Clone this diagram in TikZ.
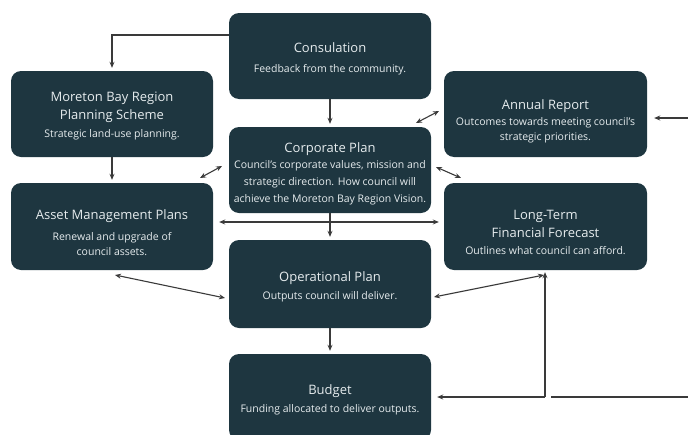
\documentclass[tikz,border=0pt]{standalone}
\usepackage{fontspec}
\setmainfont{Open Sans}
\usetikzlibrary{arrows.meta}
\definecolor{boxc}{HTML}{1E3640}
\definecolor{txtc}{HTML}{E6ECEE}
\definecolor{arrc}{HTML}{3A3A3A}
\tikzset{
  pbox/.style={rectangle, rounded corners=10pt, fill=boxc,
    minimum width=202pt, minimum height=86pt, inner sep=0pt},
  ptxt/.style={text=txtc, align=center, inner sep=0pt,
    font=\fontsize{10.5}{17}\selectfont},
  arr/.style={draw=arrc, line width=1.1pt, -{Stealth[length=6pt,width=5pt]}},
  darr/.style={draw=arrc, line width=1.1pt, {Stealth[length=6pt,width=5pt]}-{Stealth[length=6pt,width=5pt]}},
  ln/.style={draw=arrc, line width=1.1pt},
}
\newcommand{\ttl}{\fontsize{13}{17}\selectfont}
\newcommand{\sub}{\fontsize{10.5}{17}\selectfont}
\begin{document}
\begin{tikzpicture}[x=1pt,y=-1pt]
\useasboundingbox (0,0) rectangle (688,434);
% boxes
\node[pbox] (cons) at (330,56) {};
\node[pbox] (mbr) at (112,114) {};
\node[pbox] (corp) at (330,170) {};
\node[pbox, minimum width=203pt] (ann) at (545.5,114) {};
\node[pbox, minimum height=87pt] (asset) at (112,226.5) {};
\node[pbox, minimum width=203pt, minimum height=87pt] (ltff) at (545.5,226.5) {};
\node[pbox, minimum height=88pt] (oper) at (330,284) {};
\node[pbox] (bud) at (330,397) {};
% texts
\node[ptxt] (consT) at ([yshift=-2.5pt]cons.center) {\ttl Consulation\\[3pt] \sub Feedback from the community.};
\node[ptxt] (mbrT) at ([yshift=-2pt]mbr.center) {\ttl Moreton Bay Region\\[1pt] \ttl Planning Scheme\\[1pt] \sub Strategic land-use planning.};
\node[ptxt] (corpT) at ([yshift=-4pt]corp.center) {\ttl Corporate Plan\\[-1pt] \sub Council's corporate values, mission and\\ \sub strategic direction. How council  will\\ \sub achieve the Moreton Bay Region Vision.};
\node[ptxt] (annT) at ([yshift=-7pt]ann.center) {\ttl Annual Report\\[-1pt] \sub Outcomes towards meeting council's\\[-2pt] \sub strategic priorities.};
\node[ptxt] (assetT) at ([yshift=-6pt]asset.center) {\ttl Asset Management Plans\\[4pt] \sub Renewal and upgrade of\\[-2pt] \sub council assets.};
\node[ptxt] (ltffT) at ([yshift=-6pt]ltff.center) {\ttl Long-Term\\[1pt] \ttl Financial Forecast\\[0pt] \sub Outlines what council can afford.};
\node[ptxt] (operT) at ([yshift=-2.5pt]oper.center) {\ttl Operational Plan\\[1pt] \sub Outputs council will deliver.};
\node[ptxt] (budT) at ([yshift=-3pt]bud.center) {\ttl Budget\\[1pt] \sub Funding allocated to deliver outputs.};
% coordinates
\coordinate (d1a) at (200,178); \coordinate (d1b) at (222,166);
\coordinate (d2a) at (416,123); \coordinate (d2b) at (439,111);
\coordinate (d3a) at (436,167); \coordinate (d3b) at (461,178);
\coordinate (d4a) at (115,275); \coordinate (d4b) at (225,298);
\coordinate (d5a) at (434,297); \coordinate (d5b) at (544,275);
\coordinate (r1) at (688,118);
\coordinate (r2) at (688,397); \coordinate (r2e) at (551,397);
\coordinate (j) at (545,397);
% connectors
\draw[arr] ([yshift=21pt]cons.west) -| ([yshift=3pt]mbr.north);
\draw[arr] (cons.south) -- ([yshift=3pt]corp.north);
\draw[arr] (mbr.south) -- ([yshift=3pt]asset.north);
\draw[arr] (corp.south) -- ([yshift=3pt]oper.north);
\draw[arr] (oper.south) -- ([yshift=3pt]bud.north);
\draw[darr] ([xshift=6pt,yshift=4.5pt]asset.east) -- ([xshift=-5pt,yshift=4.5pt]ltff.west);
\draw[darr] (d1a) -- (d1b);
\draw[darr] (d2a) -- (d2b);
\draw[darr] (d3a) -- (d3b);
\draw[darr] (d4a) -- (d4b);
\draw[darr] (d5a) -- (d5b);
\draw[arr] (r1) -- ([xshift=7pt,yshift=-4pt]ann.east);
\draw[ln] (r2) -- (r2e);
\draw[arr] (j) -- ([yshift=-2pt]ltff.south -| j);
\draw[arr] (j) -- ([xshift=6pt]bud.east);
\end{tikzpicture}
\end{document}
